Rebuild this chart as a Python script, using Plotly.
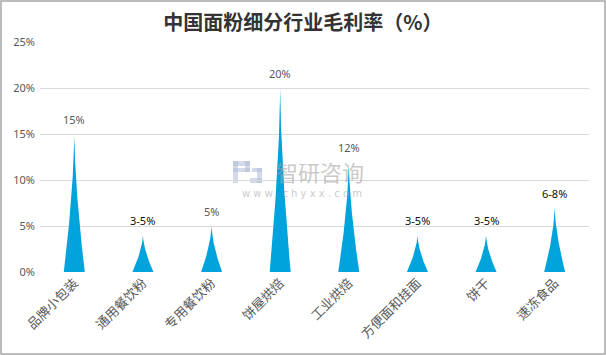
import numpy as np
import plotly.graph_objects as go

categories = ["品牌小包装", "通用餐饮粉", "专用餐饮粉", "饼屋烘焙", "工业烘焙", "方便面和挂面", "饼干", "速冻食品"]
values = [15, 4, 5, 20, 12, 4, 4, 7]
labels = ["15%", "3-5%", "5%", "20%", "12%", "3-5%", "3-5%", "6-8%"]
label_colors = ["#595959", "#111111", "#595959", "#595959", "#595959", "#111111", "#111111", "#111111"]
y_ticks = [0, 5, 10, 15, 20, 25]
y_ticktext = ["0%", "5%", "10%", "15%", "20%", "25%"]

W, H = 606, 355
ML, MR, MT, MB = 40, 17, 42, 83
BAR_COLOR = "#00A3DC"
half_w = 0.153
q = 1.6
pw = W - ML - MR
ph = H - MT - MB


def px(x):
    return (x - ML) / pw


def py(y):
    return 1 - (y - MT) / ph


fig = go.Figure()

# watermark logo (light, behind bars)
logo_col = "rgba(175,188,215,0.55)"
for (x0, y0, x1, y1) in [(233, 161, 238, 183), (233, 161, 250, 166), (245, 161, 250, 172),
                         (233, 168, 250, 172), (252, 168, 262, 172), (257, 168, 262, 183),
                         (250, 178, 262, 183)]:
    fig.add_shape(type="rect", xref="paper", yref="paper", x0=px(x0), x1=px(x1),
                  y0=py(y1), y1=py(y0), line=dict(width=0), fillcolor=logo_col, layer="below")

t = np.linspace(0, 1, 60)
for i, v in enumerate(values):
    # concave "peak" shape in data coordinates
    h = t * v
    w = half_w * (1 - t) ** q
    xs = np.concatenate([i - w, (i + w)[::-1]])
    ys = np.concatenate([h, h[::-1]])
    fig.add_trace(go.Scatter(x=xs, y=ys, fill="toself", mode="lines",
                             line=dict(width=0, color=BAR_COLOR), fillcolor=BAR_COLOR,
                             hoverinfo="skip", showlegend=False))
    fig.add_annotation(x=i, y=v, text=labels[i], showarrow=False, yanchor="bottom",
                       yshift=5, font=dict(family="Noto Sans, DejaVu Sans", size=11,
                                           color=label_colors[i]))

# watermark text
fig.add_annotation(xref="paper", yref="paper", x=px(320), y=py(171), text="智研咨询",
                   showarrow=False, yanchor="middle",
                   font=dict(family="Noto Sans CJK SC", size=22, color="rgba(165,165,165,0.6)"))
fig.add_annotation(xref="paper", yref="paper", x=px(302), y=py(193),
                   text="w w w . c h y x x . c o m", showarrow=False, yanchor="middle",
                   font=dict(family="DejaVu Sans", size=10, color="rgba(165,165,165,0.6)"))

fig.add_shape(type="rect", xref="paper", yref="paper",
              x0=-(ML - 1) / pw, x1=1 + (MR - 1) / pw,
              y0=-(MB - 1) / ph, y1=1 + (MT - 1) / ph,
              line=dict(color="#A6A6A6", width=1.5), layer="below")

fig.update_layout(
    width=W, height=H,
    margin=dict(l=ML, r=MR, t=MT, b=MB),
    paper_bgcolor="white", plot_bgcolor="white",
    title=dict(text="中国面粉细分行业毛利率（%）", x=0.5, xanchor="center",
               y=1 - 23 / H, yanchor="middle",
               font=dict(family="Noto Sans CJK SC", size=20, color="#333333", weight="bold")),
    xaxis=dict(range=[-0.5, 7.5], tickmode="array", tickvals=list(range(len(categories))),
               ticktext=categories, tickangle=-45, showgrid=False, zeroline=False,
               showline=False, ticks="",
               tickfont=dict(family="Noto Sans CJK SC", size=13, color="#595959")),
    yaxis=dict(range=[0, 25], tickmode="array", tickvals=y_ticks, ticktext=y_ticktext,
               showgrid=True, gridcolor="#D9D9D9", gridwidth=1, zeroline=False,
               showline=False, ticks="", ticklabelstandoff=4,
               tickfont=dict(family="Noto Sans, DejaVu Sans", size=11, color="#595959")),
)

fig.write_html("out.html")
